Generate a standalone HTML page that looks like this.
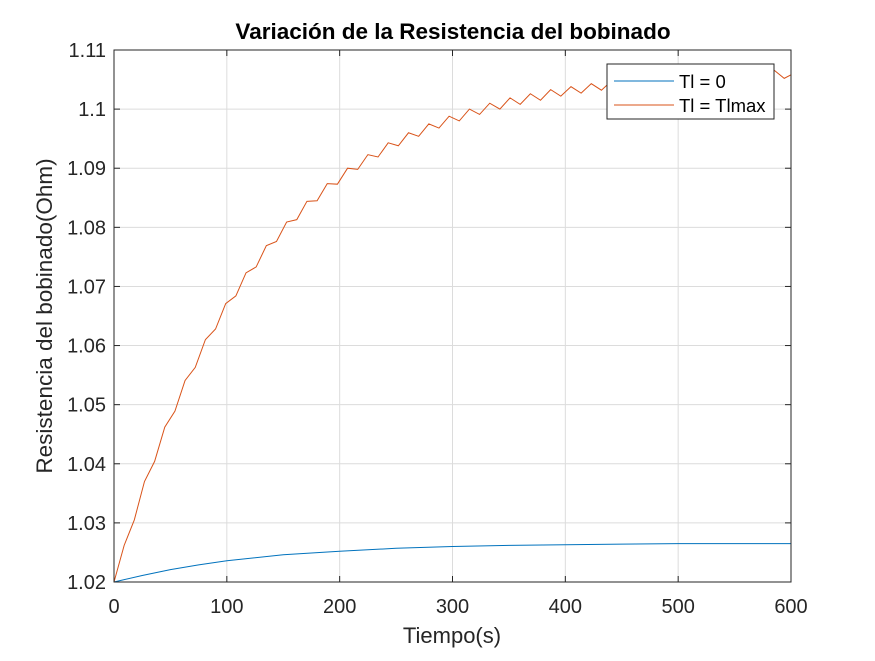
<!DOCTYPE html>
<html><head><meta charset="utf-8"><style>
body{margin:0;background:#fff}
svg text{font-family:"Liberation Sans",Arial,sans-serif}
</style></head><body>
<svg id="chart" width="875" height="656" xmlns="http://www.w3.org/2000/svg">
<rect width="875" height="656" fill="#fff"/>
<g id="grid"></g>
<g id="series"></g>
<g id="axes"></g>
<text x="453" y="39" text-anchor="middle" font-size="22.5" font-weight="bold" fill="#000">Variación de la Resistencia del bobinado</text>
<text x="452" y="643" text-anchor="middle" font-size="22" fill="#262626">Tiempo(s)</text>
<text transform="translate(52,316) rotate(-90)" text-anchor="middle" font-size="22.5" fill="#262626">Resistencia del bobinado(Ohm)</text>
<g>
<rect x="607" y="64" width="167" height="55" fill="#fff" stroke="#262626" stroke-width="1"/>
<line x1="614" y1="81" x2="674" y2="81" stroke="#0072BD" stroke-width="1"/>
<text x="679" y="88" font-size="18.5" fill="#000">Tl = 0</text>
<line x1="614" y1="105" x2="674" y2="105" stroke="#D95319" stroke-width="1"/>
<text x="679" y="112" font-size="18.5" fill="#000">Tl = Tlmax</text>
</g>
</svg>
<script>
const xTicks=[0,100,200,300,400,500,600];
const yTicks=[1.02,1.03,1.04,1.05,1.06,1.07,1.08,1.09,1.1,1.11];
const yTickLabels=["1.02","1.03","1.04","1.05","1.06","1.07","1.08","1.09","1.1","1.11"];
const blueT=[0,25,50,75,100,150,200,250,300,350,400,450,500,550,600];
const blueV=[1.0200,1.0211,1.0221,1.0229,1.0236,1.0246,1.0252,1.0257,1.0260,1.0262,1.0263,1.0264,1.0265,1.0265,1.0265];
const orangeV=[1.0200,1.0262,1.0305,1.0370,1.0404,1.0462,1.0489,1.0541,1.0563,1.0610,1.0628,1.0671,1.0684,1.0723,1.0733,1.0769,1.0776,1.0809,1.0813,1.0844,1.0845,1.0874,1.0873,1.0900,1.0898,1.0923,1.0919,1.0943,1.0938,1.0960,1.0954,1.0975,1.0968,1.0988,1.0980,1.1000,1.0991,1.1010,1.1000,1.1019,1.1008,1.1026,1.1015,1.1033,1.1022,1.1038,1.1027,1.1043,1.1032,1.1048,1.1036,1.1051,1.1039,1.1054,1.1042,1.1057,1.1044,1.1059,1.1046,1.1061,1.1048,1.1063,1.1050,1.1064,1.1051,1.1066,1.1052,1.1058];
const orangeT=[];for(let k=0;k<67;k++)orangeT.push(k*9);orangeT.push(600);
const L=114,R=791,T=50,B=582;
const sx=v=>L+(v-0)/(600-0)*(R-L);
const sy=v=>B-(v-1.02)/(1.11-1.02)*(B-T);
const NS="http://www.w3.org/2000/svg";
function mk(tag,attrs,parent){const e=document.createElementNS(NS,tag);for(const k in attrs)e.setAttribute(k,attrs[k]);parent.appendChild(e);return e;}
const grid=document.getElementById('grid'),axes=document.getElementById('axes'),series=document.getElementById('series');
xTicks.forEach((t,i)=>{
  const x=sx(t);
  const g=mk('line',{x1:x,y1:T,x2:x,y2:B,stroke:'#dcdcdc','stroke-width':1},grid);
  
  
  mk('line',{x1:x,y1:B,x2:x,y2:B-6,stroke:'#262626'},axes);
  mk('line',{x1:x,y1:T,x2:x,y2:T+6,stroke:'#262626'},axes);
  const tx=mk('text',{x:x,y:B+31,'text-anchor':'middle','font-size':20,fill:'#262626'},axes);
  tx.textContent=String(t);
  
  
});
yTicks.forEach((v,i)=>{
  const y=sy(v);
  const g=mk('line',{x1:L,y1:y,x2:R,y2:y,stroke:'#dcdcdc','stroke-width':1},grid);
  
  
  mk('line',{x1:L,y1:y,x2:L+6,y2:y,stroke:'#262626'},axes);
  mk('line',{x1:R,y1:y,x2:R-6,y2:y,stroke:'#262626'},axes);
  const tx=mk('text',{x:L-8,y:y+7,'text-anchor':'end','font-size':20,fill:'#262626'},axes);
  tx.textContent=yTickLabels[i];
  
  
});
const frame=mk('rect',{x:L,y:T,width:R-L,height:B-T,fill:'none',stroke:'#262626','stroke-width':1},axes);


function line(ts,vs,color,name){
  const d=ts.map((t,i)=>(i?'L':'M')+sx(t).toFixed(2)+' '+sy(vs[i]).toFixed(2)).join(' ');
  const p=mk('path',{d:d,fill:'none',stroke:color,'stroke-width':1},series);
  
  
}
line(blueT,blueV,'#0072BD','series-tl-0');
line(orangeT,orangeV,'#D95319','series-tl-max');
</script>
</body></html>
